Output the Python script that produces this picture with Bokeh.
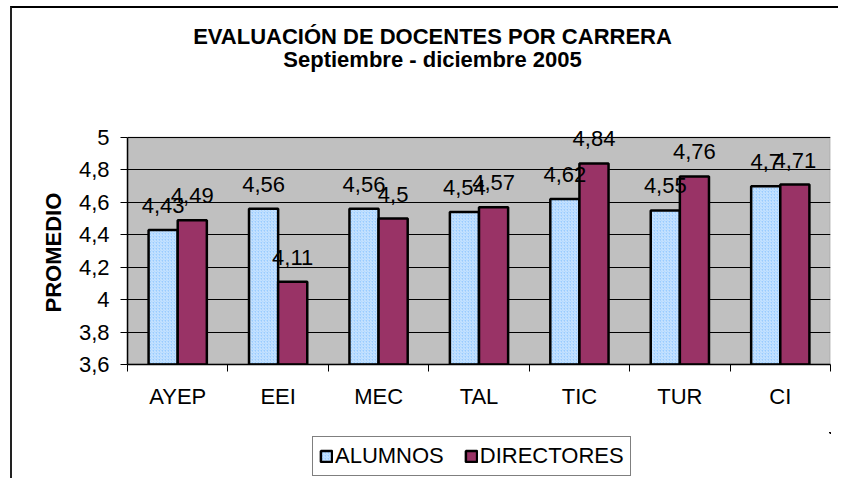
from bokeh.plotting import figure
from bokeh.layouts import column
from bokeh.models import (Range1d, FixedTicker, LabelSet, Label, Legend, LegendItem, Title,
                          ColumnDataSource, BoxAnnotation)
from bokeh.transform import dodge
from bokeh.core.properties import value
from bokeh.embed import file_html
from bokeh.resources import INLINE

# ---- data ----
categories = ["AYEP", "EEI", "MEC", "TAL", "TIC", "TUR", "CI"]
alumnos = [4.43, 4.56, 4.56, 4.54, 4.62, 4.55, 4.7]
directores = [4.49, 4.11, 4.5, 4.57, 4.84, 4.76, 4.71]
y_ticks = [3.6, 3.8, 4.0, 4.2, 4.4, 4.6, 4.8, 5.0]
y_tick_labels = ["3,6", "3,8", "4", "4,2", "4,4", "4,6", "4,8", "5"]
series_names = ["ALUMNOS", "DIRECTORES"]
title_text = "EVALUACIÓN DE DOCENTES POR CARRERA"
subtitle_text = "Septiembre - diciembre 2005"
y_label = "PROMEDIO"

FONT = "Liberation Sans"
FS = "22px"

def fmt(v):
    return ("%g" % v).replace(".", ",")

n = len(categories)
centers = [i + 0.5 for i in range(n)]          # category slot centres on the x scale
bounds = list(range(n + 1))                    # category slot boundaries

src = ColumnDataSource(dict(
    cat=categories, pos=centers, alumnos=alumnos, directores=directores,
    alab=[fmt(v) for v in alumnos], dlab=[fmt(v) for v in directores]))

# layout (pixels)
PLOT_H = 227          # height of the grey value area
FRAME_H = 344         # frame also holds the titles above the grey area
y0, y1 = y_ticks[0], y_ticks[-1]
y_top = y0 + (y1 - y0) * FRAME_H / PLOT_H
px = (y1 - y0) / PLOT_H   # data units per pixel

alum_style = dict(fill_color="#99CCFF", line_color="black", line_width=2.5,
                  hatch_pattern="/", hatch_color="white", hatch_scale=3, hatch_weight=1,
                  hatch_alpha=0.55)
dir_style = dict(fill_color="#993366", line_color="black", line_width=2.5)

p = figure(x_range=Range1d(0, n), y_range=Range1d(y0, y_top),
           frame_width=703, frame_height=FRAME_H,
           min_border_left=115, min_border_right=8, min_border_top=12, min_border_bottom=68,
           output_backend="svg", toolbar_location=None,
           background_fill_color="white", border_fill_color="white")
p.outline_line_color = None

# grey plot area
p.add_layout(BoxAnnotation(bottom=y0, top=y1, fill_color="#C0C0C0", fill_alpha=1,
                           line_color="#808080", line_width=2, level="image"))

p.xgrid.visible = False
p.ygrid.ticker = FixedTicker(ticks=y_ticks)
p.ygrid.grid_line_color = "black"
p.ygrid.grid_line_width = 1

ya = p.yaxis[0]
ya.ticker = FixedTicker(ticks=y_ticks)
ya.bounds = (y0, y1)
ya.major_label_overrides = dict(zip(y_ticks, y_tick_labels))
ya.major_tick_out = 7
ya.major_tick_in = 0
ya.minor_tick_line_color = None
ya.axis_line_color = "black"
ya.axis_line_width = 1.5
ya.major_tick_line_color = "black"
ya.major_label_standoff = 11
ya.major_label_text_font = FONT
ya.major_label_text_font_size = FS
ya.major_label_text_color = "black"

# y-axis title, placed along the grey area
p.add_layout(Title(text=y_label, align="left", offset=52,
                   standoff=20, vertical_align="bottom", text_font=FONT, text_font_size=FS,
                   text_font_style="bold", text_color="black"), "left")

xa = p.xaxis[0]
xa.ticker = FixedTicker(ticks=centers, minor_ticks=bounds)
xa.major_label_overrides = dict(zip(centers, categories))
xa.major_tick_line_color = None
xa.major_tick_out = 0
xa.major_tick_in = 0
xa.minor_tick_out = 7
xa.minor_tick_in = 0
xa.minor_tick_line_color = "black"
xa.axis_line_color = "black"
xa.axis_line_width = 1.5
xa.major_label_standoff = 12
xa.major_label_text_font = FONT
xa.major_label_text_font_size = FS
xa.major_label_text_color = "black"

r1 = p.vbar(x=dodge("pos", -0.145), top="alumnos", bottom=y0, width=0.29, source=src, **alum_style)
r2 = p.vbar(x=dodge("pos", 0.145), top="directores", bottom=y0, width=0.29, source=src, **dir_style)

for col, lab, off in (("alumnos", "alab", -0.145), ("directores", "dlab", 0.145)):
    ls = LabelSet(x=dodge("pos", off), y=col, text=lab, source=src,
                  y_offset=17, text_align="center", text_baseline="alphabetic",
                  text_font=value(FONT), text_font_size=value(FS), text_color="black")
    p.add_layout(ls)

p.add_layout(Label(x=3.037, y=y1 + 101 * px, text=title_text, text_align="center",
                   text_baseline="alphabetic", text_font=FONT, text_font_size=FS,
                   text_font_style="bold", text_color="black"))
p.add_layout(Label(x=3.037, y=y1 + 78 * px, text=subtitle_text, text_align="center",
                   text_baseline="alphabetic", text_font=FONT, text_font_size=FS,
                   text_font_style="bold", text_color="black"))

# legend strip (its swatches reuse the bar styles; the bars themselves lie outside its view)
lg = figure(width=826, height=46, x_range=Range1d(-20, -19), y_range=Range1d(-10, -9),
            x_axis_location=None, y_axis_location=None, min_border=0,
            output_backend="svg", toolbar_location=None,
            background_fill_color="white", border_fill_color="white")
lg.outline_line_color = None
lg.grid.visible = False
g1 = lg.vbar(x=dodge("pos", -0.145), top="alumnos", bottom=y0, width=0.29, source=src, **alum_style)
g2 = lg.vbar(x=dodge("pos", 0.145), top="directores", bottom=y0, width=0.29, source=src, **dir_style)
legend = Legend(items=[LegendItem(label=series_names[0], renderers=[g1]),
                       LegendItem(label=series_names[1], renderers=[g2])],
                orientation="horizontal", location=(185, 2))
legend.border_line_color = "black"
legend.border_line_width = 1
legend.padding = 6
legend.spacing = 20
legend.label_standoff = 2
legend.glyph_width = 14
legend.glyph_height = 14
legend.label_text_font = FONT
legend.label_text_font_size = FS
legend.label_text_color = "black"
legend.margin = 0
lg.add_layout(legend)

layout = column(p, lg)
layout.styles = {"margin-left": "10px", "margin-top": "6px",
                 "border-top": "2px solid #000000", "border-left": "2px solid #222222"}

open("out.html", "w").write(file_html(layout, INLINE))
